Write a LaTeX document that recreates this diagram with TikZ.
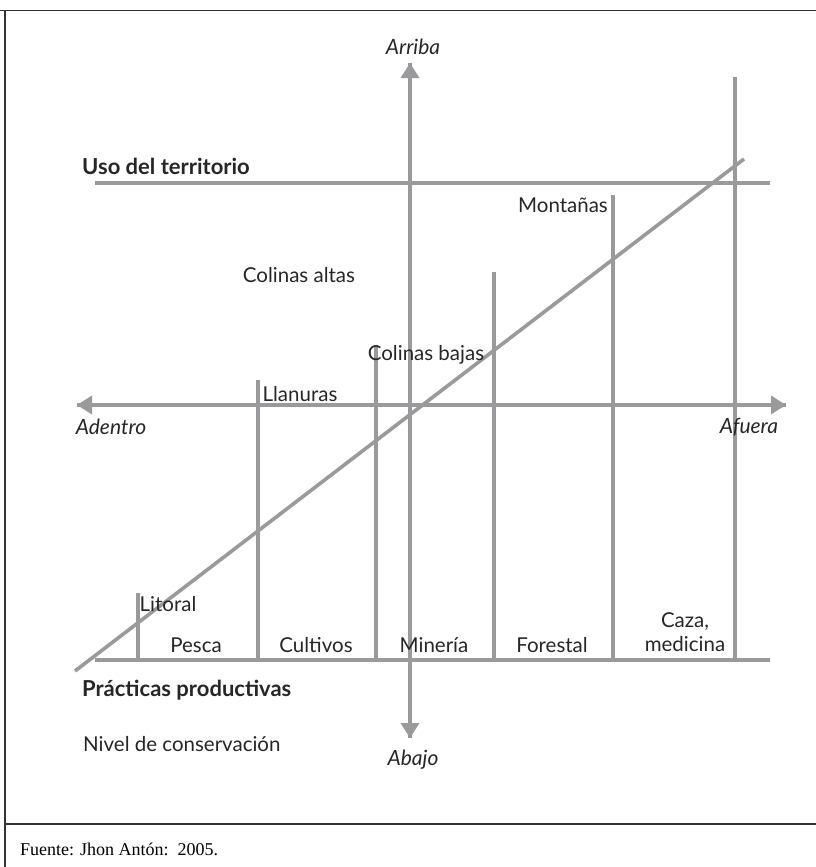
\documentclass[tikz,border=0pt]{standalone}
\usepackage{fontspec}
\setmainfont{Lato}
\newfontfamily\serifsrc{Liberation Serif}
\usetikzlibrary{arrows.meta}
\definecolor{lg}{HTML}{9A9A9C}
\tikzset{
  gl/.style={draw=lg, line width=3.6pt},
  garrow/.style={gl, -{Triangle[width=18pt,length=15pt]}},
  lbl/.style={font=\fontsize{20.5}{23}\selectfont, inner sep=0pt, text=black!85},
  ital/.style={lbl, font=\fontsize{21}{23}\selectfont\itshape},
  bld/.style={lbl, font=\fontsize{22}{25}\selectfont\bfseries},
  frame/.style={draw=black!80, line width=1.4pt}
}
\begin{document}
\begin{tikzpicture}[x=1pt,y=-1pt]
\useasboundingbox (0,0) rectangle (816,867);
% frame
\coordinate (ftl) at (0,10.5);
\coordinate (ftr) at (816,10.5);
\coordinate (fbl) at (5,867);
\coordinate (ftl2) at (5,10.5);
\coordinate (fsl) at (5,824);
\coordinate (fsr) at (816,824);
\draw[frame] (ftl) -- (ftr);
\draw[frame] (ftl2) -- (fbl);
\draw[frame] (fsl) -- (fsr);
\node[anchor=west, inner sep=0pt, font=\serifsrc\fontsize{18}{20}\selectfont] (src) at (20,849) {Fuente: Jhon Antón:\ \ 2005.};

% coordinates
\coordinate (vtop) at (410,63);
\coordinate (vbot) at (410,738);
\coordinate (hleft) at (77,405);
\coordinate (hright) at (786,405);
\coordinate (dl) at (75,671);
\coordinate (dr) at (744,159);
\coordinate (ul) at (95,183);
\coordinate (ur) at (770,183);
\coordinate (bl) at (95,660);
\coordinate (br) at (770,660);
\foreach \n/\x/\t in {a/138/593, b/258/380, c/376/345, d/494/272, e/613/195, f/735/77}{
  \coordinate (\n0) at (\x,660);
  \coordinate (\n1) at (\x,\t);
}

% lines
\draw[gl] (ul) -- (ur);
\draw[gl] (bl) -- (br);
\foreach \n in {a,b,c,d,e,f}{ \draw[gl] (\n0) -- (\n1); }
\draw[gl] (dl) -- (dr);
\draw[garrow] (vbot) -- (vtop);
\draw[garrow] (vtop) -- (vbot);
\draw[garrow] (hright) -- (hleft);
\draw[garrow] (hleft) -- (hright);

% labels
\node[ital] (arriba) at (413,47) {Arriba};
\node[ital] (abajo) at (413,760) {Abajo};
\node[ital] (adentro) at (111,427) {Adentro};
\node[ital] (afuera) at (749,427) {Afuera};
\node[bld, anchor=west] (uso) at (82,166) {Uso del territorio};
\node[bld, anchor=west] (prac) at (82,690) {Prácticas productivas};
\node[lbl, anchor=west] (nivel) at (83,744) {Nivel de conservación};
\node[lbl] (litoral) at (168,604) {Litoral};
\node[lbl] (llanuras) at (300,394) {Llanuras};
\node[lbl] (cbajas) at (426,355) {Colinas bajas};
\node[lbl] (caltas) at (299,275) {Colinas altas};
\node[lbl] (mont) at (563,205) {Montañas};
\node[lbl] (pesca) at (196,645) {Pesca};
\node[lbl] (cult) at (316,645) {Cultivos};
\node[lbl] (min) at (434,645) {Minería};
\node[lbl] (fore) at (552,645) {Forestal};
\node[lbl, align=center, font=\fontsize{20.5}{24}\selectfont] (caza) at (685,632) {Caza,\\medicina};
\end{tikzpicture}
\end{document}
